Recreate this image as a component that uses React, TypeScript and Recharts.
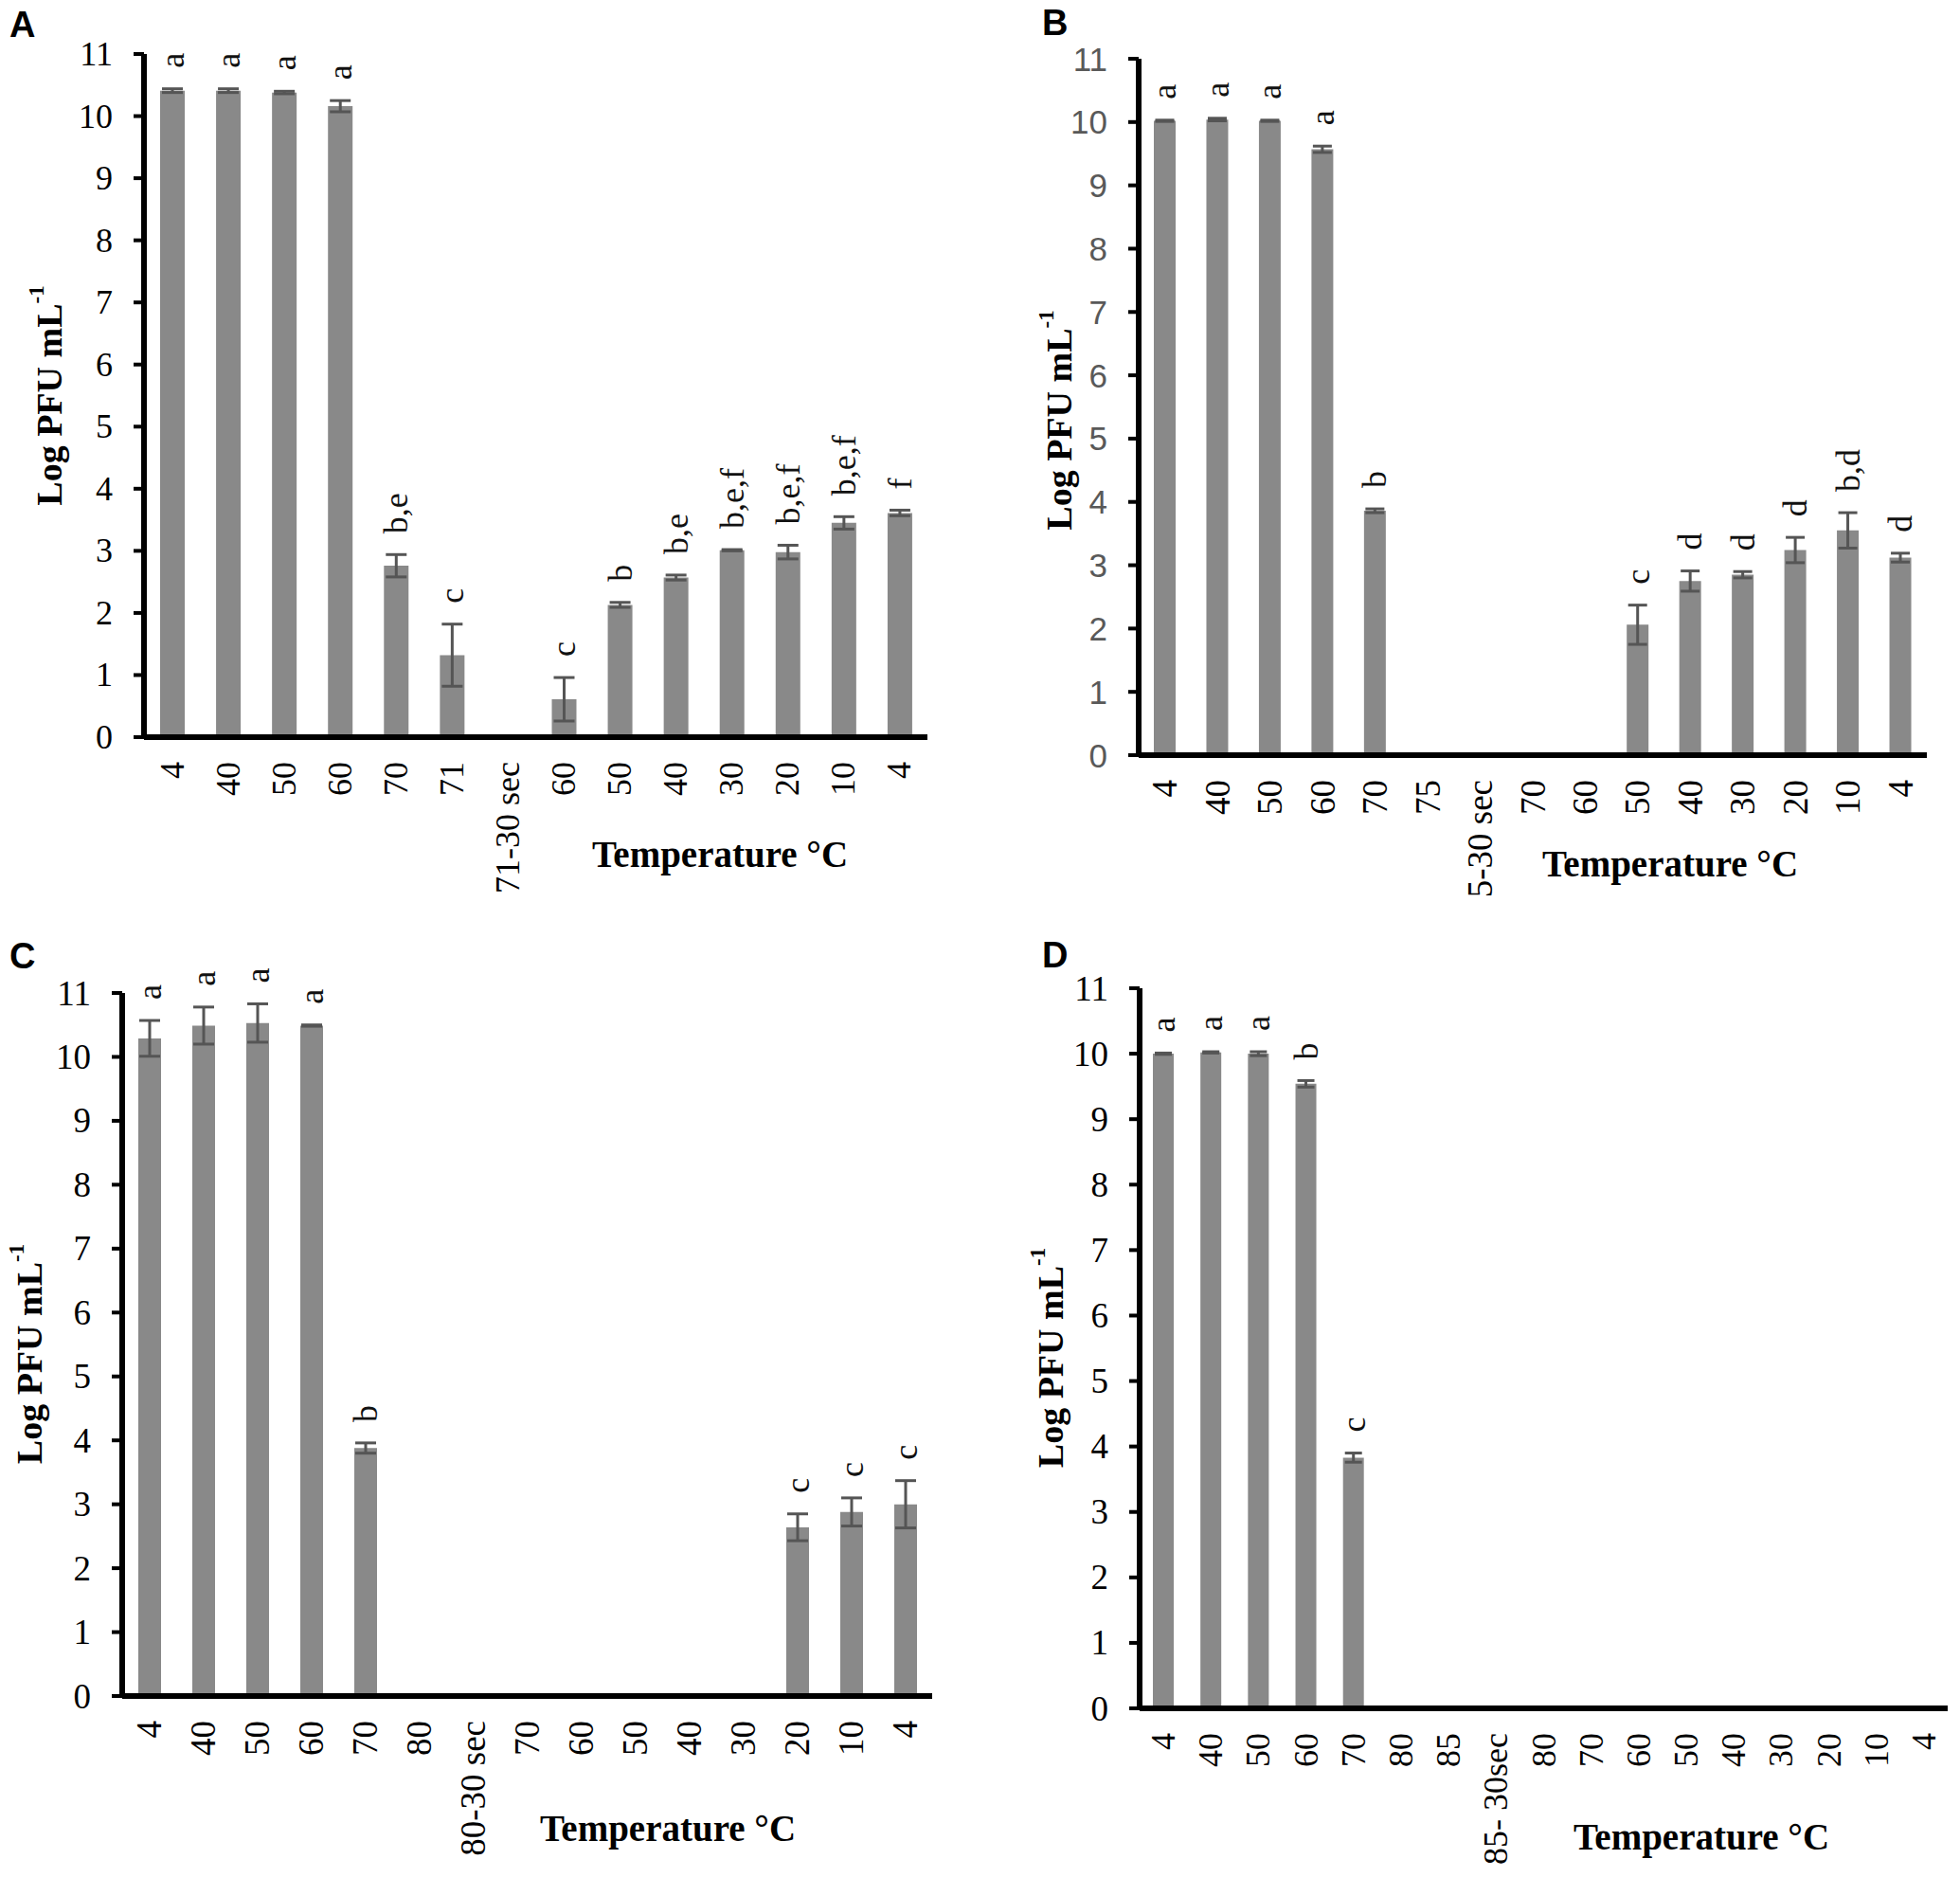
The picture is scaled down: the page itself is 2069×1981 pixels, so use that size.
import React from 'react'
import { BarChart, Bar, XAxis, YAxis, ErrorBar, LabelList } from 'recharts'

const SERIF = '"Liberation Serif", "Times New Roman", serif'
const SANS = '"Liberation Sans", Arial, sans-serif'
const BAR = '#898989'
const ERR = '#555555'

const yTicks = [0, 1, 2, 3, 4, 5, 6, 7, 8, 9, 10, 11]

// Panel A
const tempsA = ['4', '40', '50', '60', '70', '71', '71-30 sec', '60', '50', '40', '30', '20', '10', '4']
const logA = [10.41, 10.41, 10.38, 10.16, 2.76, 1.32, 0, 0.61, 2.13, 2.57, 3.01, 2.98, 3.45, 3.61]
const errA = [0.03, 0.03, 0.02, 0.09, 0.18, 0.5, 0, 0.35, 0.04, 0.04, 0.01, 0.11, 0.1, 0.045]
const lettersA = ['a', 'a', 'a', 'a', 'b,e', 'c', '', 'c', 'b', 'b,e', 'b,e,f', 'b,e,f', 'b,e,f', 'f']

// Panel B
const tempsB = ['4', '40', '50', '60', '70', '75', '5-30 sec', '70', '60', '50', '40', '30', '20', '10', '4']
const logB = [10.02, 10.04, 10.02, 9.57, 3.86, 0, 0, 0, 0, 2.06, 2.75, 2.85, 3.24, 3.55, 3.12]
const errB = [0.01, 0.02, 0.01, 0.05, 0.03, 0, 0, 0, 0, 0.31, 0.16, 0.05, 0.2, 0.28, 0.07]
const lettersB = ['a', 'a', 'a', 'a', 'b', '', '', '', '', 'c', 'd', 'd', 'd', 'b,d', 'd']

// Panel C
const tempsC = ['4', '40', '50', '60', '70', '80', '80-30 sec', '70', '60', '50', '40', '30', '20', '10', '4']
const logC = [10.29, 10.49, 10.53, 10.49, 3.88, 0, 0, 0, 0, 0, 0, 0, 2.64, 2.88, 3.0]
const errC = [0.28, 0.29, 0.3, 0.01, 0.08, 0, 0, 0, 0, 0, 0, 0, 0.21, 0.22, 0.37]
const lettersC = ['a', 'a', 'a', 'a', 'b', '', '', '', '', '', '', '', 'c', 'c', 'c']

// Panel D
const tempsD = ['4', '40', '50', '60', '70', '80', '85', '85- 30sec', '80', '70', '60', '50', '40', '30', '20', '10', '4']
const logD = [10.0, 10.02, 10.0, 9.54, 3.83, 0, 0, 0, 0, 0, 0, 0, 0, 0, 0, 0, 0]
const errD = [0.01, 0.01, 0.03, 0.05, 0.07, 0, 0, 0, 0, 0, 0, 0, 0, 0, 0, 0, 0]
const lettersD = ['a', 'a', 'a', 'b', 'c', '', '', '', '', '', '', '', '', '', '', '', '']

const YW = 80
const XH = 150

function Panel({ temps, log, err, letters, box, plot, barSize, capWidth, yFont, yFamily, yColor, xFont, yTitleDx, yTitleDy, xTitleDx, xTitleDy }) {
  const data = temps.map((t, i) => ({ idx: i, log: log[i], err: err[i], letter: letters[i] }))
  const margin = {
    left: plot.l - box.left - YW,
    top: plot.t - box.top,
    right: box.left + box.w - plot.r,
    bottom: box.top + box.h - plot.b - XH,
  }
  const unit = (plot.b - plot.t) / 11

  const xTick = (p) => {
    const { x, y, payload } = p
    return (
      <text x={x} y={y} transform={`rotate(-90 ${x} ${y})`} textAnchor="end" dominantBaseline="central"
        fontFamily={SERIF} fontSize={xFont} fill="#000">
        {temps[payload.value]}
      </text>
    )
  }
  const yTick = (p) => {
    const { x, y, payload } = p
    return (
      <text x={x} y={y} textAnchor="end" dominantBaseline="central" fontFamily={yFamily} fontSize={yFont} fill={yColor}>
        {payload.value}
      </text>
    )
  }
  // value carries "letter|error" so the label can sit above the error cap
  const letter = (p) => {
    if (!p.value) return null
    const [txt, e] = String(p.value).split('|')
    const cx = p.x + p.width / 2
    const cy = p.y - Number(e) * unit - 22
    return (
      <text x={cx} y={cy} transform={`rotate(-90 ${cx} ${cy})`} textAnchor="start" dominantBaseline="central"
        fontFamily={SERIF} fontSize={36} fill="#111">
        {txt}
      </text>
    )
  }
  const yTitle = (p) => {
    const vb = p.viewBox
    const cx = vb.x + vb.width - yTitleDx
    const cy = vb.y + vb.height / 2 + yTitleDy
    return (
      <text x={cx} y={cy} transform={`rotate(-90 ${cx} ${cy})`} textAnchor="middle" dominantBaseline="central"
        fontFamily={SERIF} fontSize={38} fontWeight="bold" fill="#000">
        Log PFU mL<tspan dy={-14} fontSize={23}>-1</tspan>
      </text>
    )
  }
  const xTitle = (p) => {
    const vb = p.viewBox
    return (
      <text x={vb.x + xTitleDx} y={vb.y + xTitleDy} textAnchor="middle"
        fontFamily={SERIF} fontSize={39} fontWeight="bold" fill="#000">
        Temperature °C
      </text>
    )
  }

  return (
    <div style={{ position: 'absolute', left: box.left, top: box.top, width: box.w, height: box.h }}>
      <BarChart width={box.w} height={box.h} data={data} margin={margin}>
        <XAxis
          dataKey="idx"
          type="category"
          height={XH}
          interval={0}
          tickLine={false}
          tickSize={0}
          tickMargin={26}
          axisLine={{ stroke: '#000', strokeWidth: 6 }}
          tick={xTick}
          label={xTitle}
        />
        <YAxis
          type="number"
          width={YW}
          domain={[0, 11]}
          ticks={yTicks}
          interval={0}
          tickSize={11}
          tickMargin={22}
          tickLine={{ stroke: '#000', strokeWidth: 4 }}
          axisLine={{ stroke: '#000', strokeWidth: 6 }}
          tick={yTick}
          label={yTitle}
        />
        <Bar dataKey="log" fill={BAR} barSize={barSize} isAnimationActive={false}>
          <ErrorBar dataKey="err" width={capWidth} strokeWidth={3} stroke={ERR} direction="y" isAnimationActive={false} />
          <LabelList dataKey={(d) => (d.letter ? `${d.letter}|${d.err}` : '')} content={letter} />
        </Bar>
      </BarChart>
    </div>
  )
}

export default function App() {
  return (
    <div style={{ position: 'absolute', left: 0, top: 0, width: 2069, height: 1981, background: '#fff' }}>
      <Panel temps={tempsA} log={logA} err={errA} letters={lettersA}
        box={{ left: 0, top: 0, w: 1034, h: 980 }} plot={{ l: 152, t: 57, r: 979, b: 778 }}
        barSize={26} capWidth={11} yFont={36} yFamily={SERIF} yColor="#000" xFont={36}
        yTitleDx={100} yTitleDy={0} xTitleDx={608} xTitleDy={137} />
      <Panel temps={tempsB} log={logB} err={errB} letters={lettersB}
        box={{ left: 1034, top: 0, w: 1035, h: 980 }} plot={{ l: 1202, t: 62, r: 2034, b: 797 }}
        barSize={23} capWidth={10} yFont={35} yFamily={SANS} yColor="#595959" xFont={37}
        yTitleDx={84} yTitleDy={14} xTitleDx={561} xTitleDy={128} />
      <Panel temps={tempsC} log={logC} err={errC} letters={lettersC}
        box={{ left: 0, top: 980, w: 1034, h: 1001 }} plot={{ l: 129, t: 1048, r: 984, b: 1790 }}
        barSize={24} capWidth={11} yFont={37} yFamily={SERIF} yColor="#000" xFont={37}
        yTitleDx={98} yTitleDy={10} xTitleDx={576} xTitleDy={153} />
      <Panel temps={tempsD} log={logD} err={errD} letters={lettersD}
        box={{ left: 1034, top: 980, w: 1035, h: 1001 }} plot={{ l: 1203, t: 1043, r: 2056, b: 1803 }}
        barSize={22} capWidth={9} yFont={37} yFamily={SERIF} yColor="#000" xFont={36}
        yTitleDx={94} yTitleDy={10} xTitleDx={593} xTitleDy={149} />
      <svg width={2069} height={1981} style={{ position: 'absolute', left: 0, top: 0, pointerEvents: 'none' }}>
        <text x={10} y={39} fontFamily={SANS} fontSize={38} fontWeight="bold" fill="#000">A</text>
        <text x={1100} y={37} fontFamily={SANS} fontSize={38} fontWeight="bold" fill="#000">B</text>
        <text x={10} y={1022} fontFamily={SANS} fontSize={38} fontWeight="bold" fill="#000">C</text>
        <text x={1100} y={1021} fontFamily={SANS} fontSize={38} fontWeight="bold" fill="#000">D</text>
      </svg>
    </div>
  )
}
